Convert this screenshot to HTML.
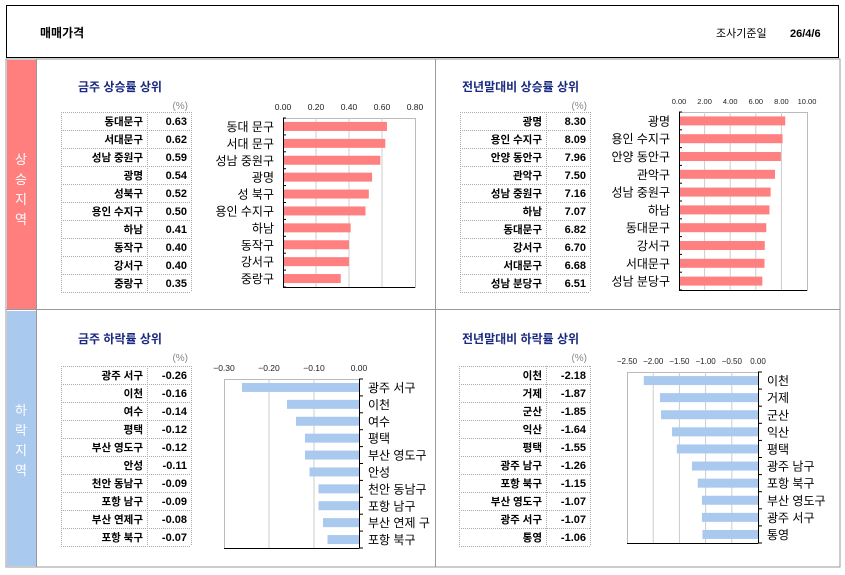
<!DOCTYPE html>
<html><head><meta charset="utf-8"><style>
body{margin:0;background:#fff;}
svg text{font-family:"Liberation Sans","Noto Sans CJK KR",sans-serif;}
</style></head><body>
<svg id="s" width="845" height="570" xmlns="http://www.w3.org/2000/svg">
<rect x="0" y="0" width="845" height="570" fill="#fff"/>
<rect x="6.5" y="5.5" width="832" height="52" fill="#fff" stroke="#000" stroke-width="1"/>
<text x="40" y="37" font-size="12" font-weight="bold" fill="#000">매매가격</text>
<text x="716" y="37" font-size="11" fill="#000">조사기준일</text>
<text x="790" y="37" font-size="11" font-weight="bold" fill="#000">26/4/6</text>
<rect x="6" y="59" width="834" height="508" fill="none" stroke="#999" stroke-width="1"/>
<rect x="7" y="60" width="29" height="249" fill="#ff7f7f"/>
<rect x="7" y="311" width="29" height="255" fill="#a9c9ee"/>
<g fill="#fff" font-size="13" text-anchor="middle">
<text x="21" y="164">상</text><text x="21" y="184">승</text><text x="21" y="204">지</text><text x="21" y="224">역</text>
<text x="21" y="415">하</text><text x="21" y="435">락</text><text x="21" y="455">지</text><text x="21" y="475">역</text>
</g>
<g fill="none" stroke="#999"><line x1="36.5" y1="59" x2="36.5" y2="567"/><line x1="435.5" y1="59" x2="435.5" y2="567"/><line x1="6" y1="309.5" x2="840" y2="309.5"/></g>
<g id="c"></g>
</svg>
<script>
const NS="http://www.w3.org/2000/svg",G=document.getElementById('c');
function el(t,a,txt){const e=document.createElementNS(NS,t);for(const k in a)e.setAttribute(k,a[k]);if(txt!==undefined)e.textContent=txt;G.appendChild(e);return e;}
function panel(o){
 el('text',{x:o.tx,y:o.ty,'font-size':12,'font-weight':'bold',fill:'#1a2a80'},o.title);
 el('text',{x:o.tblR-3,y:o.ty+18,'font-size':10,fill:'#888','text-anchor':'end'},'(%)');
 const rh=18,n=o.names.length;
 for(let i=0;i<n;i++){const y=o.tblY+i*rh;
  el('text',{x:o.midX-4,y:y+13,'font-size':10.5,'font-weight':'bold',fill:'#000','text-anchor':'end'},o.names[i]);
  el('text',{x:o.tblR-4,y:y+13,'font-size':11,'font-weight':'bold',fill:'#000','text-anchor':'end'},o.vals[i].toFixed(2));
 }
 const d={stroke:'#aaa','stroke-dasharray':'1,1','stroke-width':1,fill:'none'};
 for(let i=0;i<=n;i++)el('line',Object.assign({x1:o.tblX,x2:o.tblR,y1:o.tblY+i*rh+.5,y2:o.tblY+i*rh+.5},d));
 [o.tblX,o.midX,o.tblR].forEach(x=>el('line',Object.assign({x1:x+.5,x2:x+.5,y1:o.tblY,y2:o.tblY+n*rh},d)));
 const X=v=>o.x0+(v-o.min)/(o.max-o.min)*(o.x1-o.x0);
 el('rect',{x:o.x0+.5,y:o.top+.5,width:o.x1-o.x0,height:o.bot-o.top,fill:'none',stroke:'#bbb'});
 o.ticks.forEach(t=>{const x=X(t);
  if(t!==o.min&&t!==o.max&&!(t==0&&o.neg)) el('line',{x1:x,x2:x,y1:o.top,y2:o.bot,stroke:'#ccc'});
  el('text',{x:x,y:o.top-8,'font-size':o.tfs,fill:'#222','text-anchor':'middle'},o.tl(t));
 });
 const ch=(o.bot-o.top)/n;
 for(let i=0;i<n;i++){const v=o.cv[i],yc=o.top+ch*(i+.5);
  const a=X(0),b=X(v);
  el('rect',{x:Math.min(a,b),y:yc-4.5,width:Math.abs(b-a),height:9,fill:o.col});
  if(o.neg) el('text',{x:o.x1+9,y:yc+4.5,'font-size':12,fill:'#000'},o.cn[i]);
  else el('text',{x:o.x0-9,y:yc+4.5,'font-size':12,fill:'#000','text-anchor':'end'},o.cn[i]);
 }
 const ax=o.neg?o.x1:o.x0;
 el('line',{x1:ax+.5,x2:ax+.5,y1:o.top,y2:o.bot,stroke:'#000'});
 el('line',{x1:o.x0,x2:o.x1,y1:o.bot+.5,y2:o.bot+.5,stroke:'#000'});
 for(let i=0;i<=n;i++){const y=o.top+ch*i;el('line',{x1:ax,x2:ax+(o.neg?4:3),y1:y,y2:y,stroke:'#000'});}
}
const f2=t=>t.toFixed(2).replace('-','−');
panel({title:'금주 상승률 상위',tx:78,ty:91,tblX:61,midX:147,tblR:191,tblY:112,
 names:['동대문구','서대문구','성남 중원구','광명','성북구','용인 수지구','하남','동작구','강서구','중랑구'],
 vals:[.63,.62,.59,.54,.52,.50,.41,.40,.40,.35],cn:['동대 문구','서대 문구','성남 중원구','광명','성 북구','용인 수지구','하남','동작구','강서구','중랑구'],
 cv:[.63,.62,.59,.54,.52,.50,.41,.40,.40,.35],x0:283,x1:415,min:0,max:.8,ticks:[0,.2,.4,.6,.8],tl:f2,tfs:8.5,
 top:118,bot:287,col:'#ff8080'});
panel({title:'전년말대비 상승률 상위',tx:462,ty:91,tblX:460,midX:546,tblR:590,tblY:112,
 names:['광명','용인 수지구','안양 동안구','관악구','성남 중원구','하남','동대문구','강서구','서대문구','성남 분당구'],
 vals:[8.30,8.09,7.96,7.50,7.16,7.07,6.82,6.70,6.68,6.51],
 cn:['광명','용인 수지구','안양 동안구','관악구','성남 중원구','하남','동대문구','강서구','서대문구','성남 분당구'],
 cv:[8.30,8.09,7.96,7.50,7.16,7.07,6.82,6.70,6.68,6.51],x0:679,x1:807,min:0,max:10,ticks:[0,2,4,6,8,10],tl:f2,tfs:7.5,
 top:112,bot:290,col:'#ff8080'});
panel({title:'금주 하락률 상위',tx:78,ty:343,tblX:61,midX:147,tblR:191,tblY:366,
 names:['광주 서구','이천','여수','평택','부산 영도구','안성','천안 동남구','포항 남구','부산 연제구','포항 북구'],
 vals:[-.26,-.16,-.14,-.12,-.12,-.11,-.09,-.09,-.08,-.07],
 cn:['광주 서구','이천','여수','평택','부산 영도구','안성','천안 동남구','포항 남구','부산 연제 구','포항 북구'],
 cv:[-.26,-.16,-.14,-.12,-.12,-.11,-.09,-.09,-.08,-.07],x0:224,x1:359,min:-.3,max:0,ticks:[-.3,-.2,-.1,0],tl:f2,tfs:8.5,
 top:379,bot:548,col:'#a9c9ee',neg:true});
panel({title:'전년말대비 하락률 상위',tx:462,ty:343,tblX:459,midX:546,tblR:590,tblY:366,
 names:['이천','거제','군산','익산','평택','광주 남구','포항 북구','부산 영도구','광주 서구','통영'],
 vals:[-2.18,-1.87,-1.85,-1.64,-1.55,-1.26,-1.15,-1.07,-1.07,-1.06],
 cn:['이천','거제','군산','익산','평택','광주 남구','포항 북구','부산 영도구','광주 서구','통영'],
 cv:[-2.18,-1.87,-1.85,-1.64,-1.55,-1.26,-1.15,-1.07,-1.07,-1.06],x0:627,x1:758,min:-2.5,max:0,ticks:[-2.5,-2,-1.5,-1,-.5,0],tl:f2,tfs:8,
 top:372,bot:543,col:'#a9c9ee',neg:true});
</script>
</body></html>
